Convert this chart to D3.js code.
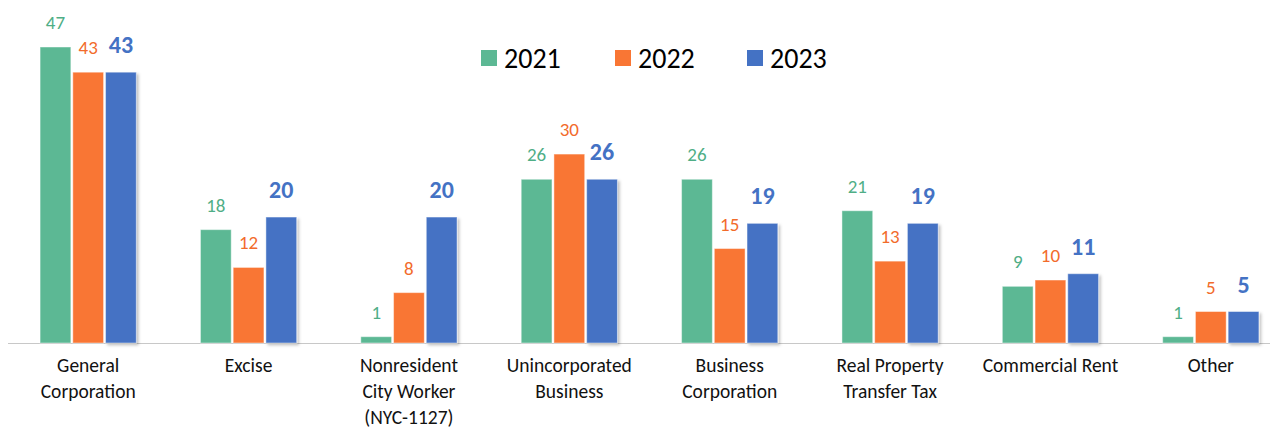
<!DOCTYPE html>
<html>
<head>
<meta charset="utf-8">
<script src="https://cdn.jsdelivr.net/npm/d3@7"></script>
<style>
  body { margin: 0; background: #fff; }
  svg { font-family: Carlito, Calibri, Lato, sans-serif; }
</style>
</head>
<body>
<svg id="chart"></svg>
<script>
const categories = [
    ["General", "Corporation"],
    ["Excise"],
    ["Nonresident", "City Worker", "(NYC-1127)"],
    ["Unincorporated", "Business"],
    ["Business", "Corporation"],
    ["Real Property", "Transfer Tax"],
    ["Commercial Rent"],
    ["Other"]
];
const years = ["2021", "2022", "2023"];
const values2021 = [47, 18, 1, 26, 26, 21, 9, 1];
const values2022 = [43, 12, 8, 30, 15, 13, 10, 5];
const values2023 = [43, 20, 20, 26, 19, 19, 11, 5];

const width = 1275,
      height = 428,
      svg = d3.select("#chart")
              .attr("width", width)
              .attr("height", height);

const series = [values2021, values2022, values2023];
const barColors = ["#5cb894", "#f97634", "#4472c4"];
const labelColors = ["#4fae86", "#f26b2b", "#4472c4"];

// drop shadow like the office chart
const defs = svg.append("defs");
const f = defs.append("filter").attr("id", "shadow")
    .attr("x", "-20%").attr("y", "-20%").attr("width", "150%").attr("height", "150%");
f.append("feDropShadow")
    .attr("dx", 2).attr("dy", 2).attr("stdDeviation", 1.5)
    .attr("flood-color", "#000").attr("flood-opacity", 0.25);

const x0 = d3.scaleBand()
    .domain(d3.range(categories.length))
    .range([8, 1291])
    .paddingInner(0.4)
    .paddingOuter(0.2);

const x1 = d3.scaleBand()
    .domain(d3.range(years.length))
    .range([0, x0.bandwidth()])
    .paddingInner(0.06);

const y = d3.scaleLinear()
    .domain([0, 47])
    .range([343, 47]);

// axis baseline
svg.append("line")
    .attr("x1", 8).attr("x2", 1270)
    .attr("y1", y(0) + 0.5).attr("y2", y(0) + 0.5)
    .attr("stroke", "#c8c8c8")
    .attr("stroke-width", 1.2);

const groups = svg.selectAll(".grp")
    .data(categories)
    .enter().append("g")
        .attr("class", "grp")
        .attr("transform", (d, i) => `translate(${x0(i)},0)`);

groups.each(function(cat, ci) {
    const g = d3.select(this);
    series.forEach((vals, si) => {
        const v = vals[ci];
        g.append("rect")
            .attr("x", x1(si))
            .attr("y", y(v))
            .attr("width", x1.bandwidth())
            .attr("height", y(0) - y(v))
            .attr("fill", barColors[si])
            .attr("stroke", "#ffffff")
            .attr("stroke-opacity", 0.45)
            .attr("stroke-width", 1)
            .attr("filter", si === 2 ? "url(#shadow)" : null);

        g.append("text")
            .attr("x", x1(si) + x1.bandwidth() / 2)
            .attr("y", y(v) - (si === 2 ? 19 : 18))
            .attr("text-anchor", "middle")
            .attr("fill", labelColors[si])
            .attr("font-size", si === 2 ? "24px" : "19px")
            .attr("font-weight", si === 2 ? "bold" : "normal")
            .text(v);
    });

    const t = g.append("text")
        .attr("x", x0.bandwidth() / 2)
        .attr("y", 372)
        .attr("text-anchor", "middle")
        .attr("fill", "#111")
        .attr("font-size", "19.5px");
    cat.forEach((line, li) => {
        t.append("tspan")
            .attr("x", x0.bandwidth() / 2)
            .attr("dy", li === 0 ? 0 : 26)
            .text(line);
    });
});

// legend
const legendX = [481, 615, 747];
const legend = svg.append("g");
years.forEach((yr, i) => {
    legend.append("rect")
        .attr("x", legendX[i]).attr("y", 50)
        .attr("width", 16).attr("height", 16)
        .attr("fill", barColors[i]);
    legend.append("text")
        .attr("x", legendX[i] + 23).attr("y", 68)
        .attr("font-size", "28px")
        .attr("fill", "#000")
        .text(yr);
});
</script>
</body>
</html>
